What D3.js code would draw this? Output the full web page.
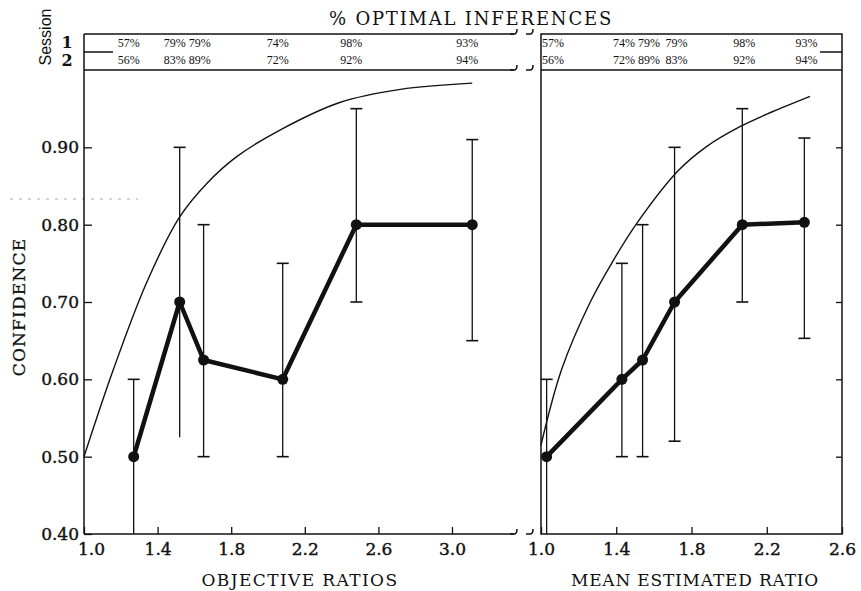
<!DOCTYPE html>
<html>
<head>
<meta charset="utf-8">
<script src="https://cdn.jsdelivr.net/npm/d3@7"></script>
<style>
body { margin: 0; background: #fff; }
svg text { font-family: "DejaVu Serif", serif; fill: #111; }
</style>
</head>
<body>
<div id="chart"></div>
<script>
// left panel - objective ratios
var objRatio = [1.27, 1.52, 1.65, 2.08, 2.48, 3.11];
var objConf  = [0.50, 0.70, 0.625, 0.60, 0.80, 0.80];
var objHi    = [0.60, 0.90, 0.80, 0.75, 0.95, 0.91];
var objLo    = [0.40, 0.525, 0.50, 0.50, 0.70, 0.65];
var objCurveX = [1.0, 1.16, 1.34, 1.52, 1.67, 1.83, 2.07, 2.39, 2.72, 3.11];
var objCurveY = [0.50, 0.613, 0.725, 0.81, 0.854, 0.888, 0.923, 0.958, 0.975, 0.983];
var objSess1 = ["57%", "79%", "79%", "74%", "98%", "93%"];
var objSess2 = ["56%", "83%", "89%", "72%", "92%", "94%"];

// right panel - mean estimated ratio
var estRatio = [1.03, 1.43, 1.54, 1.71, 2.07, 2.40];
var estConf  = [0.50, 0.60, 0.625, 0.70, 0.80, 0.803];
var estHi    = [0.60, 0.75, 0.80, 0.90, 0.95, 0.912];
var estLo    = [0.40, 0.50, 0.50, 0.52, 0.70, 0.653];
var estCurveX = [1.0, 1.11, 1.26, 1.38, 1.51, 1.73, 1.88, 2.06, 2.23, 2.43];
var estCurveY = [0.515, 0.613, 0.699, 0.752, 0.802, 0.870, 0.901, 0.927, 0.946, 0.966];
var estSess1 = ["57%", "74%", "79%", "79%", "98%", "93%"];
var estSess2 = ["56%", "72%", "89%", "83%", "92%", "94%"];

var yTicks = [0.40, 0.50, 0.60, 0.70, 0.80, 0.90];
var objTicks = [1.0, 1.4, 1.8, 2.2, 2.6, 3.0];
var estTicks = [1.0, 1.4, 1.8, 2.2, 2.6];

var w = 861, h = 591;
var top0 = 34, plotTop = 70, plotBot = 534;

var svg = d3.select("#chart").append("svg")
    .attr("width", w)
    .attr("height", h);

var y = d3.scaleLinear().domain([0.4, 1.0]).range([plotBot, plotTop]);
var xL = d3.scaleLinear().domain([1.0, 3.0]).range([84, 452]);
var xR = d3.scaleLinear().domain([1.0, 2.6]).range([541, 842]);
var leftEnd = 514;

// scan artefact
svg.append("line")
    .attr("x1", 10).attr("x2", 138).attr("y1", 199).attr("y2", 199)
    .attr("stroke", "#aaa").attr("stroke-width", 1).attr("stroke-dasharray", "3,6");

// frames
var frame = svg.append("g").attr("stroke", "#111").attr("stroke-width", 1.5).attr("fill", "none");
frame.append("line").attr("x1", xL(1)).attr("x2", xL(1)).attr("y1", top0).attr("y2", plotBot);
[top0, plotTop, plotBot].forEach(function (yy) {
    frame.append("line").attr("x1", xL(1)).attr("x2", leftEnd).attr("y1", yy).attr("y2", yy);
    frame.append("path").attr("d", "M" + (leftEnd - 4) + "," + yy + " L" + leftEnd + "," + yy + " Q" + (leftEnd + 3) + "," + yy + " " + (leftEnd + 3) + "," + (yy - 5));
    frame.append("path").attr("d", "M" + (xR(1) - 15) + "," + yy + " L" + (xR(1) - 11) + "," + yy + " Q" + (xR(1) - 8) + "," + yy + " " + (xR(1) - 8) + "," + (yy - 5));
});
frame.append("rect").attr("x", xR(1)).attr("y", top0).attr("width", xR(2.6) - xR(1)).attr("height", plotBot - top0);
frame.append("line").attr("x1", xR(1)).attr("x2", xR(2.6)).attr("y1", plotTop).attr("y2", plotTop);
frame.append("line").attr("x1", xL(1)).attr("x2", 113).attr("y1", 52).attr("y2", 52);
frame.append("line").attr("x1", 820).attr("x2", xR(2.6)).attr("y1", 52).attr("y2", 52);

// axes
var yaxis = d3.axisLeft(y).tickValues(yTicks).tickSize(-8).tickPadding(5).tickFormat(d3.format(".2f"));
svg.append("g").attr("transform", "translate(" + xL(1) + ",0)").call(yaxis);

var yaxisR = d3.axisLeft(y).tickValues(yTicks.slice(1)).tickSize(6).tickFormat("");
svg.append("g").attr("transform", "translate(" + xR(2.6) + ",0)").call(yaxisR);

var xaxisL = d3.axisBottom(xL).tickValues(objTicks).tickSize(-7).tickPadding(9).tickFormat(d3.format(".1f"));
var gxL = svg.append("g").attr("transform", "translate(0," + plotBot + ")").call(xaxisL);
gxL.select(".tick text").attr("dx", 7);

var xaxisR = d3.axisBottom(xR).tickValues(estTicks).tickSize(-7).tickPadding(9).tickFormat(d3.format(".1f"));
svg.append("g").attr("transform", "translate(0," + plotBot + ")").call(xaxisR);

svg.selectAll(".domain").remove();
svg.selectAll(".tick line").attr("stroke", "#111").attr("stroke-width", 1.3);
svg.selectAll(".tick text").style("font-size", "17px").attr("fill", "#111")
    .attr("stroke", "#111").attr("stroke-width", 0.4);

// axis titles
svg.append("text").attr("x", 471).attr("y", 25).attr("text-anchor", "middle")
    .style("font-size", "18px").style("letter-spacing", "1.8px").text("% OPTIMAL INFERENCES");
svg.append("text").attr("x", 300).attr("y", 586).attr("text-anchor", "middle")
    .style("font-size", "17px").style("letter-spacing", "1.4px").text("OBJECTIVE RATIOS");
svg.append("text").attr("x", 695).attr("y", 586).attr("text-anchor", "middle")
    .style("font-size", "17px").style("letter-spacing", "0.8px").text("MEAN ESTIMATED RATIO");
svg.append("text").attr("transform", "translate(25,307) rotate(-90)").attr("text-anchor", "middle")
    .style("font-size", "17px").style("letter-spacing", "1.2px")
    .attr("stroke", "#111").attr("stroke-width", 0.3).text("CONFIDENCE");
svg.append("text").attr("transform", "translate(51,37) rotate(-90)").attr("text-anchor", "middle")
    .style("font-family", "'Liberation Sans', sans-serif").style("font-size", "16px").text("Session");
svg.append("text").attr("x", 67).attr("y", 48).attr("text-anchor", "middle")
    .style("font-size", "16px").style("font-weight", "bold").text("1");
svg.append("text").attr("x", 67).attr("y", 66).attr("text-anchor", "middle")
    .style("font-size", "16px").style("font-weight", "bold").text("2");

function panel(xs, xv, conf, hi, lo, cx, cy, s1, s2, labOff) {
    var g = svg.append("g");
    // theoretical curve
    var curve = d3.line()
        .x(function (d, i) { return xs(cx[i]); })
        .y(function (d) { return y(d); })
        .curve(d3.curveCatmullRom.alpha(0.5));
    g.append("path").datum(cy).attr("d", curve)
        .attr("fill", "none").attr("stroke", "#111").attr("stroke-width", 1.4);

    // error bars
    var bars = g.selectAll(".bar").data(xv).enter().append("g");
    bars.append("line")
        .attr("x1", function (d) { return xs(d); }).attr("x2", function (d) { return xs(d); })
        .attr("y1", function (d, i) { return y(hi[i]); }).attr("y2", function (d, i) { return y(lo[i]); })
        .attr("stroke", "#111").attr("stroke-width", 1.3);
    bars.append("line")
        .attr("x1", function (d) { return xs(d) - 6; }).attr("x2", function (d) { return xs(d) + 6; })
        .attr("y1", function (d, i) { return y(hi[i]); }).attr("y2", function (d, i) { return y(hi[i]); })
        .attr("stroke", "#111").attr("stroke-width", 1.6);
    bars.each(function (d, i) {
        if (lo[i] > 0.4 && lo[i] != 0.525) {
            d3.select(this).append("line")
                .attr("x1", xs(d) - 6).attr("x2", xs(d) + 6)
                .attr("y1", y(lo[i])).attr("y2", y(lo[i]))
                .attr("stroke", "#111").attr("stroke-width", 1.6);
        }
    });

    // confidence line
    var line = d3.line()
        .x(function (d, i) { return xs(xv[i]); })
        .y(function (d) { return y(d); });
    g.append("path").datum(conf).attr("d", line)
        .attr("fill", "none").attr("stroke", "#111").attr("stroke-width", 4.5).attr("stroke-linejoin", "round");
    g.selectAll("circle").data(conf).enter().append("circle")
        .attr("cx", function (d, i) { return xs(xv[i]); })
        .attr("cy", function (d) { return y(d); })
        .attr("r", 5.5).attr("fill", "#111");

    // session percentages, kept inside the frame and nudged apart where they would collide
    var pos = xv.map(function (d) { return xs(d) + labOff; });
    pos[0] = Math.max(pos[0], xs.range()[0] + 12);
    for (var i = 1; i < pos.length; i++) pos[i] = Math.max(pos[i], pos[i - 1] + 25);
    [s1, s2].forEach(function (s, k) {
        g.selectAll(".s" + k).data(s).enter().append("text")
            .attr("x", function (d, i) { return pos[i]; })
            .attr("y", k == 0 ? 47 : 64)
            .attr("text-anchor", "middle")
            .style("font-family", "'Liberation Serif', serif")
            .style("font-size", "12px")
            .text(function (d) { return d; });
    });
}

panel(xL, objRatio, objConf, objHi, objLo, objCurveX, objCurveY, objSess1, objSess2, -5);
panel(xR, estRatio, estConf, estHi, estLo, estCurveX, estCurveY, estSess1, estSess2, 2);
</script>
</body>
</html>
